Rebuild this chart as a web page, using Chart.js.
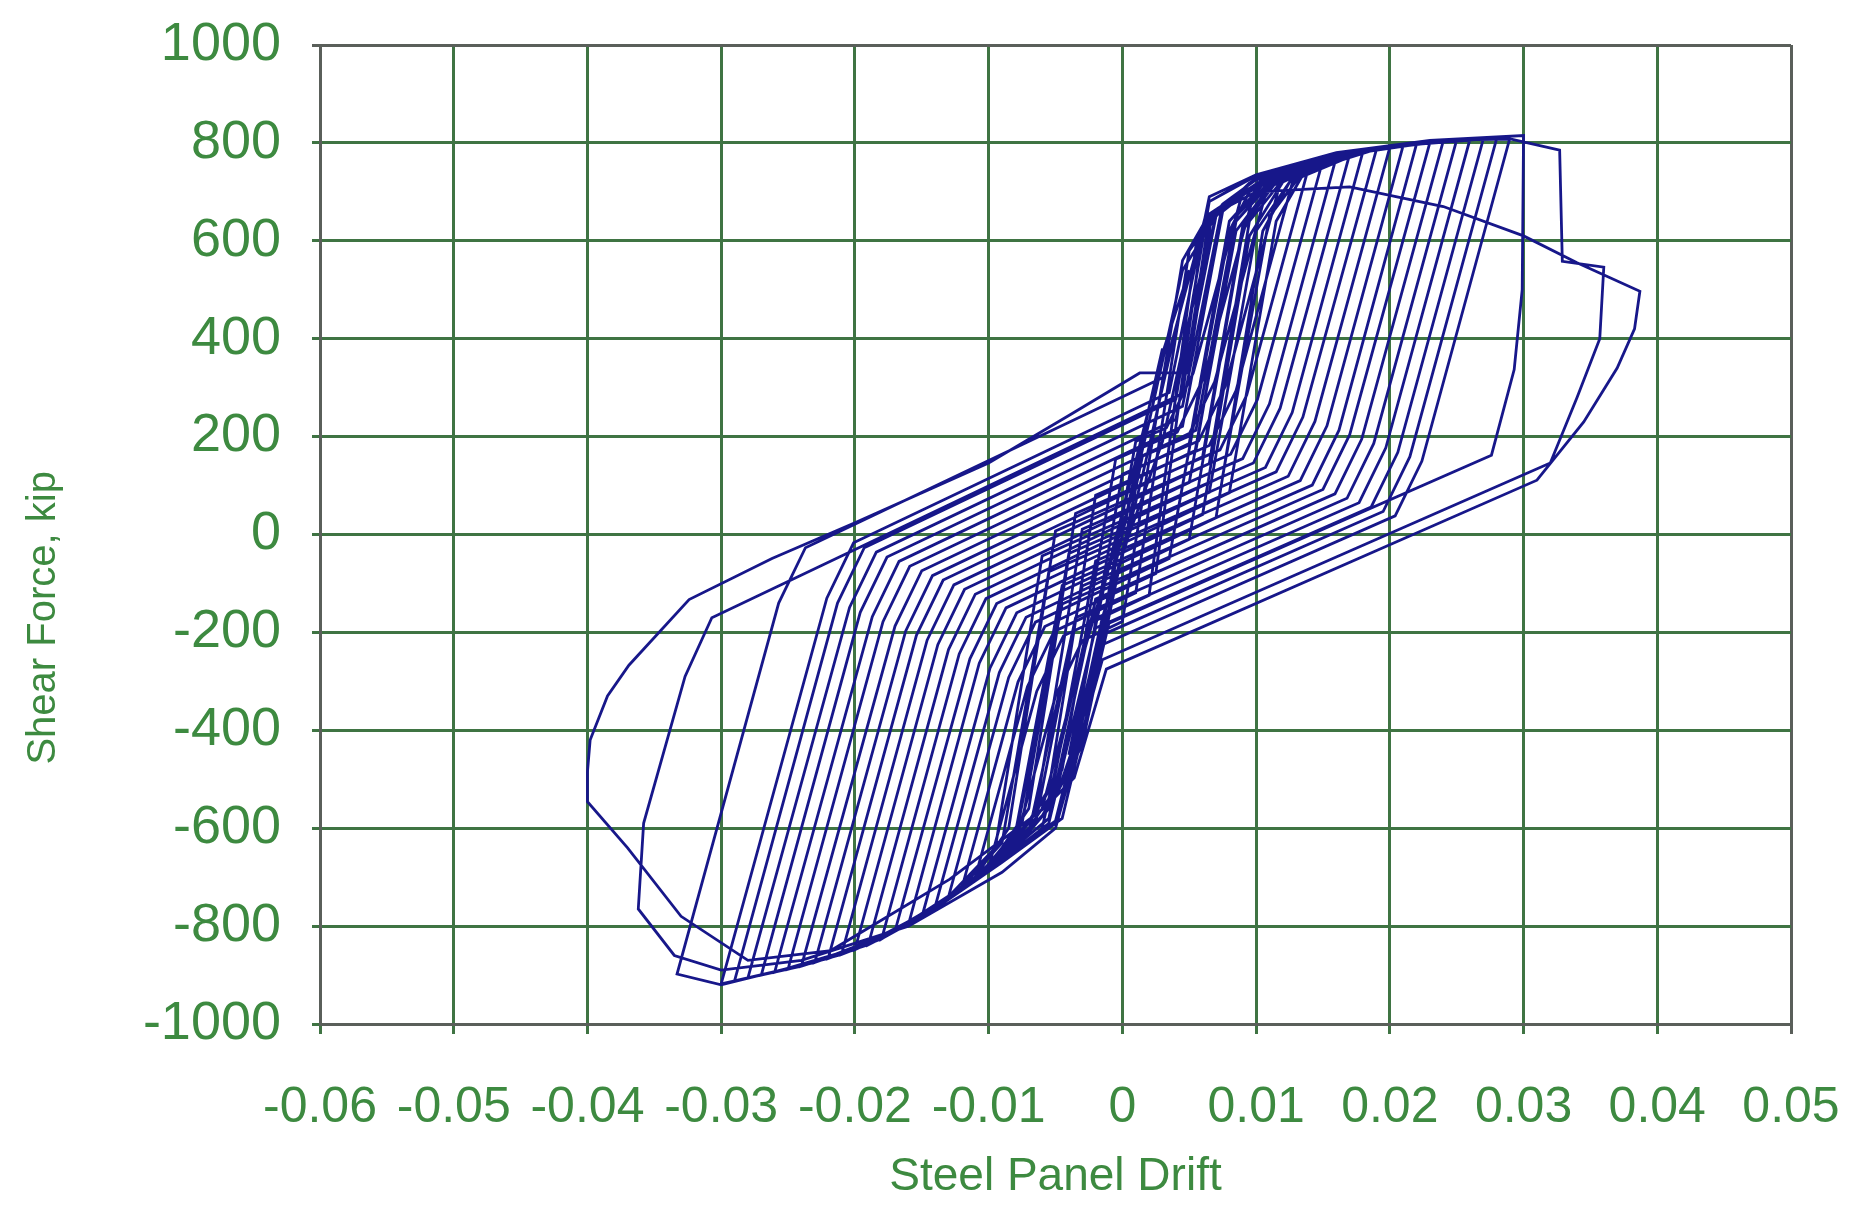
<!DOCTYPE html>
<html>
<head>
<meta charset="utf-8">
<title>Shear Force vs Steel Panel Drift</title>
<script src="https://cdn.jsdelivr.net/npm/chart.js@4.4.0/dist/chart.umd.min.js"></script>
<style>
  html, body { margin: 0; padding: 0; background: #ffffff; }
  #wrap { width: 1862px; height: 1216px; }
</style>
</head>
<body>
<div id="wrap"><canvas id="chart" width="1862" height="1216"></canvas></div>
<script>
// axis ticks
const driftTicks = [-0.06, -0.05, -0.04, -0.03, -0.02, -0.01, 0, 0.01, 0.02, 0.03, 0.04, 0.05];
const forceTicks = [-1000, -800, -600, -400, -200, 0, 200, 400, 600, 800, 1000];

// hysteresis cycles, [drift, shear force (kip)]
const cycle01 = [[0,0],[0.0015,200],[0.003,380],[0.002,260],[0.0005,60],[-0.0015,-180],[-0.003,-350],[-0.004,-450]];
const cycle02 = [[-0.0025,-250],[-0.001,-60],[0.001,150],[0.003,370],[0.005,540],[0.0035,360],[0.0015,120],[-0.001,-150],[-0.003,-380],[-0.0045,-500],[-0.006,-560]];
const cycle03 = [[-0.0035,-300],[-0.0015,-110],[0.0005,60],[0.002,230],[0.0045,540],[0.007,650],[0.005,440],[0.003,190],[0.0005,0],[-0.0015,-170],[-0.004,-480],[-0.006,-575],[-0.008,-630]];
const cycle04 = [[-0.005,-330],[-0.003,-217],[0,-178],[0.0045,560],[0.0065,655],[0.009,700],[0.0053,330],[0.0033,218],[0.001,190],[-0.003,-420],[-0.0055,-560],[-0.008,-640],[-0.010,-680]];
const cycle05 = [[-0.0064,-320],[-0.0044,-207],[0.002,-124],[0.0055,590],[0.0075,670],[0.010,712],[0.0061,321],[0.0041,209],[-0.0005,154],[-0.0045,-480],[-0.007,-590],[-0.009,-650],[-0.011,-700]];
const cycle06 = [[-0.0071,-311],[-0.0051,-198],[0.001,-119],[0.005,580],[0.0075,675],[0.011,725],[0.0069,312],[0.0049,200],[0.0015,160],[-0.003,-430],[-0.0055,-560],[-0.0085,-650],[-0.012,-722]];
const cycle07 = [[-0.0078,-301],[-0.0058,-188],[0.0025,-80],[0.006,620],[0.0085,695],[0.012,738],[0.0077,303],[0.0057,191],[0,123],[-0.004,-480],[-0.007,-600],[-0.010,-680],[-0.013,-740]];
const cycle08 = [[-0.0085,-292],[-0.0065,-179],[0.0035,-49],[0.008,620],[0.0095,700],[0.013,748],[0.0085,294],[0.0065,182],[-0.002,80],[-0.0055,-520],[-0.008,-630],[-0.011,-700],[-0.014,-760]];
const cycle09 = [[-0.0092,-282],[-0.0072,-169],[0.005,-10],[0.009,620],[0.011,710],[0.014,757],[0.0093,285],[0.0073,173],[-0.0035,43],[-0.007,-560],[-0.010,-680],[-0.015,-782]];
const cycle10 = [[-0.0099,-273],[-0.0079,-160],[0.007,34],[0.0105,620],[0.0125,720],[0.015,765],[0.0101,276],[0.0081,164],[-0.005,7],[-0.0085,-600],[-0.011,-700],[-0.013,-745],[-0.016,-797]];
const cycle11 = [[-0.0107,-263],[-0.0087,-150],[0.006,41],[0.0095,610],[0.012,720],[0.016,771],[0.011,267],[0.009,155],[-0.003,11],[-0.0065,-570],[-0.0095,-665],[-0.013,-745],[-0.017,-810]];
const cycle12 = [[-0.0114,-254],[-0.0094,-141],[0.008,85],[0.0115,640],[0.0135,735],[0.017,777],[0.0118,258],[0.0098,146],[-0.006,-44],[-0.0095,-640],[-0.013,-740],[-0.018,-826]];
const cycle13 = [[-0.0122,-244],[-0.0102,-131],[0.0065,86],[0.010,620],[0.0125,720],[0.018,783],[0.0127,249],[0.0107,137],[-0.004,-39],[-0.0075,-590],[-0.0105,-690],[-0.015,-782],[-0.019,-838]];
const cycle14 = [[-0.013,-235],[-0.011,-122],[0.0075,119],[0.011,650],[0.0135,740],[0.019,787],[0.0135,240],[0.0115,128],[-0.0055,-76],[-0.009,-630],[-0.012,-720],[-0.016,-797],[-0.020,-848]];
const cycle15 = [[-0.0138,-225],[-0.0118,-112],[0.005,106],[0.0085,620],[0.011,710],[0.016,770],[0.020,791],[0.0144,231],[0.0124,119],[-0.002,-54],[-0.0055,-560],[-0.009,-660],[-0.014,-765],[-0.018,-826],[-0.021,-858]];
const cycle16 = [[-0.0146,-216],[-0.0126,-103],[0.0065,145],[0.0095,640],[0.012,725],[0.017,780],[0.021,795],[0.0153,222],[0.0133,110],[-0.0045,-104],[-0.008,-610],[-0.0105,-690],[-0.014,-765],[-0.018,-826],[-0.022,-866]];
const cycle17 = [[-0.0154,-206],[-0.0134,-93],[0.006,159],[0.009,630],[0.0115,720],[0.017,782],[0.022,798],[0.0162,213],[0.0142,101],[-0.003,-105],[-0.0065,-590],[-0.010,-680],[-0.013,-745],[-0.017,-810],[-0.023,-874]];
const cycle18 = [[-0.0162,-197],[-0.0142,-84],[0.0055,172],[0.0085,640],[0.011,715],[0.0165,775],[0.023,801],[0.017,204],[0.015,92],[-0.0045,-142],[-0.008,-620],[-0.011,-700],[-0.0145,-770],[-0.019,-838],[-0.024,-882]];
const cycle19 = [[-0.017,-187],[-0.015,-74],[0.005,186],[0.008,640],[0.0105,715],[0.016,775],[0.024,804],[0.0179,195],[0.0159,83],[-0.002,-132],[-0.0055,-580],[-0.009,-660],[-0.0125,-735],[-0.017,-810],[-0.021,-858],[-0.025,-888]];
const cycle20 = [[-0.0179,-178],[-0.0159,-65],[0.0055,213],[0.0085,650],[0.011,720],[0.0175,782],[0.025,806],[0.0188,186],[0.0168,74],[-0.0035,-170],[-0.007,-610],[-0.010,-685],[-0.014,-765],[-0.019,-838],[-0.026,-894]];
const cycle21 = [[-0.0187,-168],[-0.0167,-55],[0.0045,221],[0.0075,660],[0.0105,725],[0.016,775],[0.020,792],[0.026,808],[0.0197,177],[0.0177,65],[-0.0025,-177],[-0.006,-600],[-0.009,-670],[-0.013,-745],[-0.018,-826],[-0.023,-874],[-0.027,-900]];
const cycle22 = [[-0.0196,-159],[-0.0176,-46],[0.004,235],[0.007,650],[0.0095,718],[0.0125,752],[0.019,790],[0.027,809],[0.0206,168],[0.0186,56],[-0.002,-191],[-0.0055,-590],[-0.009,-665],[-0.0125,-735],[-0.019,-838],[-0.024,-882],[-0.028,-906]];
const cycle23 = [[-0.0204,-149],[-0.0184,-36],[0.0045,262],[0.0075,675],[0.010,725],[0.014,762],[0.021,795],[0.028,810],[0.0215,159],[0.0195,47],[-0.0015,-205],[-0.005,-585],[-0.008,-645],[-0.0115,-712],[-0.017,-810],[-0.023,-874],[-0.029,-912]];
const cycle24 = [[-0.0213,-140],[-0.0193,-27],[0.004,276],[0.0065,680],[0.0095,725],[0.015,770],[0.022,800],[0.029,812],[0.0224,150],[0.0204,38],[-0.0015,-225],[-0.005,-590],[-0.009,-670],[-0.0135,-755],[-0.020,-848],[-0.025,-888],[-0.030,-918]];
const cycle25 = [[-0.0221,-130],[-0.0201,-17],[0.0035,290],[0.0065,690],[0.010,735],[0.016,780],[0.023,805],[0.030,815],[0.0299,500],[0.0293,337],[0.0276,162],[-0.001,-181],[-0.0045,-580],[-0.009,-670],[-0.015,-782],[-0.022,-866],[-0.030,-920],[-0.0333,-898]];
const cycle26 = [[-0.0257,-140],[-0.0237,-27],[0.003,320],[0.0065,680],[0.010,735],[0.016,780],[0.023,805],[0.029,808],[0.0327,785],[0.0329,558],[0.036,546],[0.0357,400],[0.034,280],[0.032,146],[-0.0015,-256],[-0.005,-600],[-0.009,-690],[-0.016,-800],[-0.024,-870],[-0.030,-890],[-0.0335,-860],[-0.0362,-765]];
const cycle27 = [[-0.0358,-590],[-0.0327,-290],[-0.0307,-170],[0.0045,288],[0.0065,650],[0.010,700],[0.017,710],[0.024,670],[0.030,610],[0.034,555],[0.0387,497],[0.0383,420],[0.037,340],[0.0345,230],[0.031,111],[-0.0012,-275],[-0.0036,-497],[-0.0058,-558],[-0.0129,-704],[-0.0218,-850],[-0.028,-870],[-0.033,-780],[-0.037,-640],[-0.040,-546]];
const cycle28 = [[-0.040,-485],[-0.0398,-420],[-0.0385,-330],[-0.0369,-267],[-0.0324,-133],[-0.0262,-49],[-0.020,24],[-0.010,146],[-0.004,243],[0.0013,330],[0.0049,330],[0.0067,655],[0.0102,720]];

const cycles = [cycle01, cycle02, cycle03, cycle04, cycle05, cycle06, cycle07,
                cycle08, cycle09, cycle10, cycle11, cycle12, cycle13, cycle14,
                cycle15, cycle16, cycle17, cycle18, cycle19, cycle20, cycle21,
                cycle22, cycle23, cycle24, cycle25, cycle26, cycle27, cycle28];

const points = [];
cycles.forEach(cycle => {
    cycle.forEach(p => points.push({ x: p[0], y: p[1] }));
});

const gridGreen = '#3f7443';
const frameGrey = '#5a5f5a';
const textGreen = '#3d8a40';
const fontFamily = '"Liberation Sans", Arial, sans-serif';

new Chart(document.getElementById('chart').getContext('2d'), {
    type: 'scatter',
    data: {
        datasets: [{
            data: points,
            showLine: true,
            borderColor: '#17178a',
            borderWidth: 2.8,
            pointRadius: 0,
            fill: false,
            tension: 0
        }]
    },
    options: {
        responsive: false,
        animation: false,
        layout: { padding: { left: 0, right: 71, top: 45, bottom: 0 } },
        plugins: {
            legend: { display: false },
            tooltip: { enabled: false }
        },
        scales: {
            x: {
                type: 'linear',
                min: -0.06,
                max: 0.05,
                afterBuildTicks: axis => { axis.ticks = driftTicks.map(v => ({ value: v })); },
                afterFit: axis => {
                    axis.height = 192;
                    axis.paddingLeft = 0;
                    axis.paddingRight = 0;
                },
                grid: {
                    color: c => (c.tick && c.tick.value === 0.05) ? frameGrey : gridGreen,
                    lineWidth: 3,
                    tickLength: 10
                },
                border: { color: frameGrey, width: 3 },
                ticks: {
                    autoSkip: false,
                    maxRotation: 0,
                    padding: 44,
                    color: textGreen,
                    font: { family: fontFamily, size: 50 },
                    callback: v => String(v)
                },
                title: {
                    display: true,
                    text: 'Steel Panel Drift',
                    color: textGreen,
                    font: { family: fontFamily, size: 46 },
                    padding: { top: 0, bottom: 11 }
                }
            },
            y: {
                type: 'linear',
                min: -1000,
                max: 1000,
                afterBuildTicks: axis => { axis.ticks = forceTicks.map(v => ({ value: v })); },
                afterFit: axis => {
                    axis.width = 320;
                    axis.paddingTop = 0;
                    axis.paddingBottom = 0;
                },
                grid: {
                    color: c => (c.tick && c.tick.value === 1000) ? frameGrey : gridGreen,
                    lineWidth: 3,
                    tickLength: 8
                },
                border: { color: frameGrey, width: 3 },
                ticks: {
                    autoSkip: false,
                    padding: 31,
                    color: textGreen,
                    font: { family: fontFamily, size: 54 },
                    callback: v => String(v)
                },
                title: {
                    display: true,
                    text: 'Shear Force, kip' + '\u00a0'.repeat(15),
                    color: textGreen,
                    font: { family: fontFamily, size: 40 },
                    padding: { top: 20, bottom: 0 }
                }
            }
        }
    }
});
</script>
</body>
</html>
